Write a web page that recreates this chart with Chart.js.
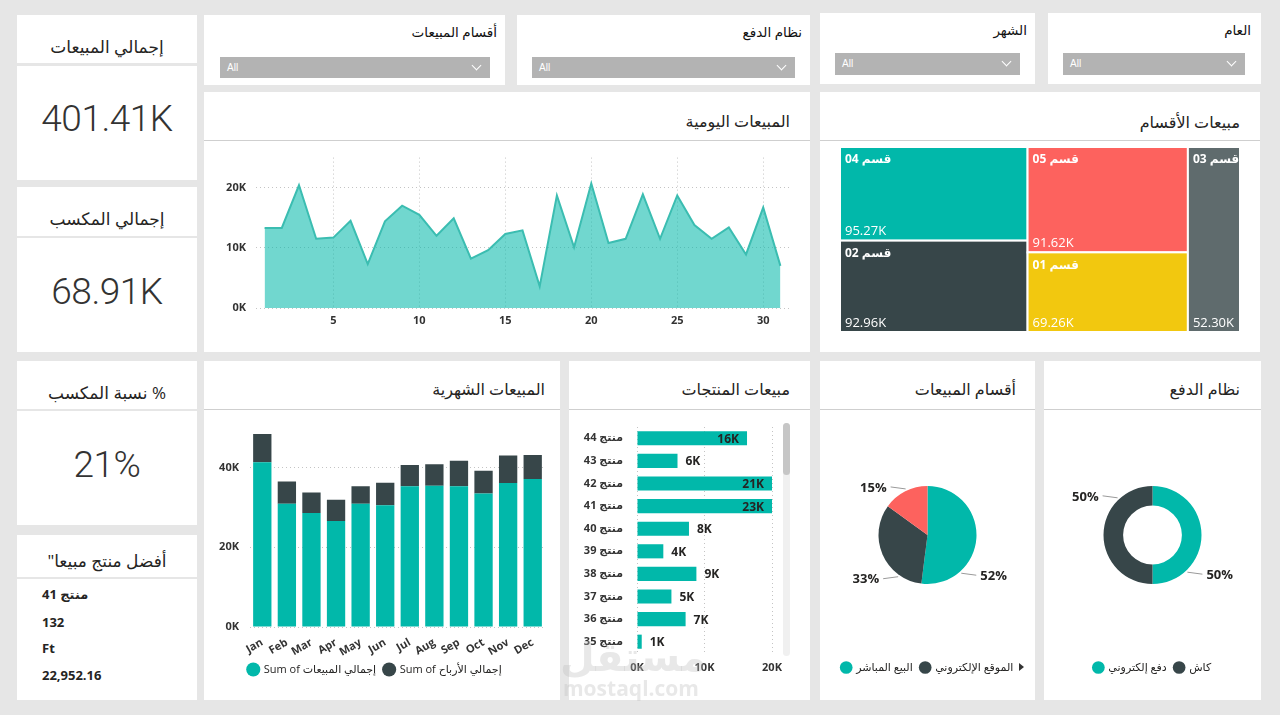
<!DOCTYPE html>
<html><head><meta charset="utf-8">
<script src="https://cdn.jsdelivr.net/npm/chart.js@4.4.1/dist/chart.umd.min.js"></script>
<style>
html,body{margin:0;padding:0;}
body{width:1280px;height:715px;background:#E6E6E6;position:relative;overflow:hidden;font-family:'Open Sans','DejaVu Sans',sans-serif;color:#252423;}
.p{position:absolute;background:#fff;}
.ttl{position:absolute;direction:rtl;text-align:right;white-space:nowrap;font-size:16px;color:#252423;}
.sep{position:absolute;height:1px;background:#CFCFCF;}
.kt{position:absolute;direction:rtl;text-align:center;white-space:nowrap;font-size:17px;color:#252423;line-height:24px;}
.kv{position:absolute;text-align:center;font-family:Roboto,'Open Sans',sans-serif;font-weight:300;font-size:37px;line-height:40px;letter-spacing:-0.5px;color:#333;}
.dd{position:absolute;background:#B3B3B3;}
.dd span{position:absolute;left:7px;top:5px;font-family:'Liberation Sans',Arial,sans-serif;font-size:10px;color:#fff;}
.dd i{position:absolute;right:10px;top:5px;width:6px;height:6px;border-right:1px solid #fff;border-bottom:1px solid #fff;transform:rotate(45deg);}
.st{position:absolute;direction:rtl;white-space:nowrap;font-size:13.5px;color:#111;}
canvas{position:absolute;}
.ln{position:absolute;left:42px;font-weight:bold;font-size:13px;color:#252423;white-space:nowrap;}
</style></head>
<body>

<!-- KPI cards -->
<div class="p" style="left:17px;top:15px;width:180px;height:48px;"></div>
<div class="p" style="left:17px;top:66px;width:180px;height:114px;"></div>
<div class="kt" style="left:17px;top:35px;width:180px;">إجمالي المبيعات</div>
<div class="kv" id="kpi1" style="left:17px;top:99px;width:180px;"></div>

<div class="p" style="left:17px;top:187px;width:180px;height:49px;"></div>
<div class="p" style="left:17px;top:238px;width:180px;height:114px;"></div>
<div class="kt" style="left:17px;top:207px;width:180px;">إجمالي المكسب</div>
<div class="kv" id="kpi2" style="left:17px;top:272px;width:180px;"></div>

<div class="p" style="left:17px;top:361px;width:180px;height:48px;"></div>
<div class="p" style="left:17px;top:411px;width:180px;height:114px;"></div>
<div class="kt" style="left:17px;top:381px;width:180px;">% نسبة المكسب</div>
<div class="kv" id="kpi3" style="left:17px;top:445px;width:180px;"></div>

<div class="p" style="left:17px;top:535px;width:180px;height:42px;"></div>
<div class="p" style="left:17px;top:579px;width:180px;height:121px;"></div>
<div class="kt" style="left:17px;top:549px;width:180px;">أفضل منتج مبيعا"</div>
<div class="ln" id="best0" style="top:585px;"></div>
<div class="ln" id="best1" style="top:613px;"></div>
<div class="ln" id="best2" style="top:639px;"></div>
<div class="ln" id="best3" style="top:666px;"></div>

<!-- slicers -->
<div class="p" style="left:204px;top:15px;width:301px;height:70px;"></div>
<div class="st" style="right:783px;top:23px;">أقسام المبيعات</div>
<div class="dd" style="left:220px;top:57px;width:270px;height:21px;"><span>All</span><i></i></div>

<div class="p" style="left:517px;top:15px;width:293px;height:70px;"></div>
<div class="st" style="right:478px;top:23px;">نظام الدفع</div>
<div class="dd" style="left:532px;top:57px;width:263px;height:21px;"><span>All</span><i></i></div>

<div class="p" style="left:820px;top:13px;width:215px;height:71px;"></div>
<div class="st" style="right:253px;top:21px;">الشهر</div>
<div class="dd" style="left:835px;top:53px;width:185px;height:22px;"><span>All</span><i></i></div>

<div class="p" style="left:1048px;top:13px;width:213px;height:71px;"></div>
<div class="st" style="right:29px;top:21px;">العام</div>
<div class="dd" style="left:1063px;top:53px;width:182px;height:22px;"><span>All</span><i></i></div>

<!-- row 2 panels -->
<div class="p" style="left:204px;top:92px;width:606px;height:260px;"></div>
<div class="ttl" style="right:490px;top:110px;">المبيعات اليومية</div>
<div class="sep" style="left:204px;top:140px;width:606px;"></div>
<canvas id="daily" width="605" height="211" style="left:205px;top:141px;"></canvas>

<div class="p" style="left:820px;top:92px;width:440px;height:260px;"></div>
<div class="ttl" style="right:40px;top:111px;">مبيعات الأقسام</div>
<div class="sep" style="left:820px;top:140px;width:440px;"></div>
<canvas id="tree" width="400" height="185" style="left:840px;top:147px;"></canvas>

<!-- row 3 panels -->
<div class="p" style="left:204px;top:361px;width:356px;height:339px;"></div>
<div class="ttl" style="right:735px;top:378px;">المبيعات الشهرية</div>
<div class="sep" style="left:204px;top:409px;width:356px;"></div>
<canvas id="monthly" width="355" height="290" style="left:205px;top:410px;"></canvas>

<div class="p" style="left:569px;top:361px;width:241px;height:339px;"></div>
<div class="ttl" style="right:490px;top:378px;">مبيعات المنتجات</div>
<div class="sep" style="left:569px;top:409px;width:241px;"></div>
<canvas id="products" width="240" height="290" style="left:570px;top:410px;"></canvas>
<div style="position:absolute;left:783px;top:423px;width:7px;height:233px;background:#F0F0F0;border-radius:4px;"></div>
<div style="position:absolute;left:783px;top:423px;width:7px;height:52px;background:#C6C6C6;border-radius:4px;"></div>

<div class="p" style="left:820px;top:361px;width:215px;height:339px;"></div>
<div class="ttl" style="right:264px;top:378px;">أقسام المبيعات</div>
<div class="sep" style="left:820px;top:409px;width:215px;"></div>
<canvas id="pie" width="215" height="290" style="left:820px;top:410px;"></canvas>
<div style="position:absolute;left:1019px;top:663px;width:0;height:0;border-top:4px solid transparent;border-bottom:4px solid transparent;border-left:5px solid #333;"></div>

<div class="p" style="left:1044px;top:361px;width:217px;height:339px;"></div>
<div class="ttl" style="right:40px;top:378px;">نظام الدفع</div>
<div class="sep" style="left:1044px;top:409px;width:217px;"></div>
<canvas id="donut" width="217" height="290" style="left:1044px;top:410px;"></canvas>

<!-- watermark -->
<div style="position:absolute;left:560px;top:628px;font-size:40px;font-weight:bold;color:rgba(190,190,190,0.35);direction:rtl;">مستقل</div>
<div style="position:absolute;left:563px;top:674px;font-size:21px;font-weight:bold;color:rgba(190,190,190,0.35);">mostaql.com</div>

<script>
// ---------- data ----------
const kpiTotalSales = '401.41K';
const kpiTotalProfit = '68.91K';
const kpiProfitRatio = '21%';
const bestProduct = ['منتج 41', '132', 'Ft', '22,952.16'];

const days = [1,2,3,4,5,6,7,8,9,10,11,12,13,14,15,16,17,18,19,20,21,22,23,24,25,26,27,28,29,30,31];
const dailySales = [13300,13300,20400,11500,11700,14500,7300,14400,17000,15500,12000,14900,8200,9600,12300,12900,3600,18700,10100,20700,10800,11500,18900,11500,18700,13800,11500,13400,8900,16700,7000];
const dailyXTicks = [5,10,15,20,25,30];
const dailyYTicks = [0,10000,20000];

const deptNames = ['قسم 04','قسم 02','قسم 05','قسم 01','قسم 03'];
const deptSales = [95270,92960,91620,69260,52300];
const treemapColumns = [['قسم 04','قسم 02'],['قسم 05','قسم 01'],['قسم 03']];

const months = ['Jan','Feb','Mar','Apr','May','Jun','Jul','Aug','Sep','Oct','Nov','Dec'];
const monthlySales = [41300,30900,28600,26600,30900,30500,35300,35400,35300,33500,36100,37100];
const monthlyProfit = [7100,5600,5100,5300,4400,5700,5300,5400,6400,5700,6900,6000];
const monthlyYTicks = [0,20000,40000];
const monthlySeries = ['Sum of إجمالي المبيعات','Sum of إجمالي الأرباح'];

const products = ['منتج 44','منتج 43','منتج 42','منتج 41','منتج 40','منتج 39','منتج 38','منتج 37','منتج 36','منتج 35'];
const productSales = [16300,6000,20600,22952,7700,3900,8800,5100,7200,700];
const productXTicks = [0,10000,20000];

const channelLabels = ['البيع المباشر','الموقع الإلكتروني','أخرى'];
const channelShares = [52,33,15];
const paymentLabels = ['دفع إلكتروني','كاش'];
const paymentShares = [50,50];

// ---------- styles ----------
const FONT = "'Open Sans','DejaVu Sans',sans-serif";
const TEAL = '#01B8AA', DARK = '#374649', RED = '#FD625E', YELLOW = '#F2C80F', GREY = '#5F6B6D';
const deptColors = {'قسم 04':TEAL,'قسم 02':DARK,'قسم 05':RED,'قسم 01':YELLOW,'قسم 03':GREY};
const tickFont = {family: FONT, size: 11, weight: 'bold'};
const gridStyle = {color:'#C4C4C4', lineWidth:1, drawTicks:false};
const dotted = {display:false, dash:[1,3]};
Chart.defaults.font.family = FONT;
Chart.defaults.color = '#333';
Chart.defaults.animation = false;
Chart.defaults.responsive = false;
Chart.defaults.plugins.tooltip.enabled = false;

document.getElementById('kpi1').textContent = kpiTotalSales;
document.getElementById('kpi2').textContent = kpiTotalProfit;
document.getElementById('kpi3').textContent = kpiProfitRatio;
bestProduct.forEach((t,i)=>document.getElementById('best'+i).textContent = t);

const kfmt = v => (v/1000) + 'K';

// ---------- daily area ----------
new Chart(document.getElementById('daily'), {
  type:'line',
  data:{datasets:[{data: days.map((d,i)=>({x:d, y:dailySales[i]})), borderColor:'#3BBDB1', backgroundColor:'rgba(1,184,170,0.56)', fill:'origin', pointRadius:0, borderWidth:2, tension:0}]},
  options:{
    layout:{padding:{top:11, right:21, left:0, bottom:0}},
    plugins:{legend:{display:false}},
    scales:{
      x:{type:'linear', min:0.5, max:31.5, afterBuildTicks:a=>{a.ticks = dailyXTicks.map(v=>({value:v}));},
         grid:gridStyle, border:dotted, ticks:{font:tickFont, padding:6, maxRotation:0, color:'#333'}, afterFit:a=>{a.height = 44;}},
      y:{min:0, max:25000, afterBuildTicks:a=>{a.ticks = dailyYTicks.map(v=>({value:v}));},
         grid:gridStyle, border:dotted, ticks:{font:tickFont, padding:10, callback:kfmt, color:'#333'}, afterFit:a=>{a.width = 51;}}
    }
  }
});

// ---------- treemap ----------
const totalDept = deptSales.reduce((a,b)=>a+b,0);
const treemapPlugin = {
  id:'treemap',
  afterDatasetsDraw(chart){
    const {ctx, scales:{x, y}} = chart;
    let cx = 0;
    ctx.save();
    treemapColumns.forEach(col=>{
      const vals = col.map(n=>deptSales[deptNames.indexOf(n)]);
      const colSum = vals.reduce((a,b)=>a+b,0);
      let cy = 1;
      col.forEach((name,j)=>{
        const h = vals[j]/colSum;
        const x0 = x.getPixelForValue(cx), x1 = x.getPixelForValue(cx+colSum);
        const y0 = y.getPixelForValue(cy), y1 = y.getPixelForValue(cy-h);
        ctx.fillStyle = deptColors[name];
        ctx.fillRect(x0, y0, x1-x0, y1-y0);
        ctx.strokeStyle = '#fff'; ctx.lineWidth = 2;
        ctx.strokeRect(x0, y0, x1-x0, y1-y0);
        ctx.save();
        ctx.beginPath(); ctx.rect(x0, y0, x1-x0, y1-y0); ctx.clip();
        ctx.fillStyle = '#fff'; ctx.textAlign = 'left'; ctx.textBaseline = 'middle';
        ctx.font = 'bold 12px ' + FONT;
        ctx.fillText(name, x0+5, y0+13);
        ctx.font = '13px ' + FONT;
        ctx.fillText((vals[j]/1000).toFixed(2)+'K', x0+5, y1-9);
        ctx.restore();
        cy -= h;
      });
      cx += colSum;
    });
    ctx.restore();
  }
};
new Chart(document.getElementById('tree'), {
  type:'scatter',
  data:{datasets:[{data:[], pointRadius:0}]},
  options:{layout:{padding:0}, plugins:{legend:{display:false}},
    scales:{x:{display:false, min:0, max:totalDept}, y:{display:false, min:0, max:1}}},
  plugins:[treemapPlugin]
});

// ---------- monthly stacked bars ----------
new Chart(document.getElementById('monthly'), {
  type:'bar',
  data:{labels:months, datasets:[
    {label:monthlySeries[0], data:monthlySales, backgroundColor:TEAL, barPercentage:0.745, categoryPercentage:1},
    {label:monthlySeries[1], data:monthlyProfit, backgroundColor:DARK, barPercentage:0.745, categoryPercentage:1}
  ]},
  options:{
    layout:{padding:{top:13, right:15, left:0, bottom:15}},
    plugins:{legend:{position:'bottom', labels:{usePointStyle:true, pointStyle:'circle', boxWidth:10, boxHeight:10, padding:8, font:{size:11}, color:'#252423'}}},
    scales:{
      x:{stacked:true, grid:{display:false}, border:{display:false}, ticks:{font:tickFont, minRotation:30, maxRotation:30, autoSkip:false, padding:1, color:'#333'}, afterFit:a=>{a.height = 29;}},
      y:{stacked:true, min:0, max:50000, afterBuildTicks:a=>{a.ticks = monthlyYTicks.map(v=>({value:v}));},
         grid:gridStyle, border:dotted, ticks:{font:tickFont, padding:11, callback:kfmt, color:'#333'}, afterFit:a=>{a.width = 45;}}
    }
  }
});

// ---------- products horizontal bars ----------
const barLabelPlugin = {
  id:'barLabels',
  afterDatasetsDraw(chart){
    const {ctx, chartArea} = chart;
    const meta = chart.getDatasetMeta(0);
    ctx.save();
    ctx.font = 'bold 12px ' + FONT;
    ctx.fillStyle = '#252423';
    ctx.textBaseline = 'middle';
    meta.data.forEach((bar,i)=>{
      const v = chart.data.datasets[0].data[i];
      const txt = Math.round(v/1000) + 'K';
      const end = Math.min(bar.x, chartArea.right);
      const w = ctx.measureText(txt).width;
      if (end + 8 + w <= chartArea.right + 2) {
        ctx.textAlign = 'left'; ctx.fillText(txt, end + 8, bar.y + 1);
      } else {
        ctx.textAlign = 'right'; ctx.fillText(txt, end - 8, bar.y + 1);
      }
    });
    ctx.restore();
  }
};
new Chart(document.getElementById('products'), {
  type:'bar',
  data:{labels:products, datasets:[{data:productSales, backgroundColor:TEAL, barPercentage:0.625, categoryPercentage:1}]},
  options:{
    indexAxis:'y',
    layout:{padding:{top:17, right:38, left:0, bottom:0}},
    plugins:{legend:{display:false}},
    scales:{
      x:{min:0, max:20000, afterBuildTicks:a=>{a.ticks = productXTicks.map(v=>({value:v}));},
         grid:gridStyle, border:dotted, ticks:{font:tickFont, padding:8, callback:kfmt, maxRotation:0, color:'#333'}, afterFit:a=>{a.height = 47;}},
      y:{grid:{display:false}, border:{display:false}, ticks:{font:{family:FONT, size:11, weight:'bold'}, padding:6, color:'#333'}, afterFit:a=>{a.width = 67;}}
    }
  },
  plugins:[barLabelPlugin]
});

// ---------- pie / donut ----------
const pieLabelPlugin = {
  id:'pieLabels',
  afterDatasetsDraw(chart, args, opts){
    const {ctx} = chart;
    const meta = chart.getDatasetMeta(0);
    const data = chart.data.datasets[0].data;
    const total = data.reduce((a,b)=>a+b,0);
    ctx.save();
    ctx.font = 'bold 13px ' + FONT;
    ctx.fillStyle = '#252423';
    ctx.strokeStyle = '#9A9A9A';
    ctx.lineWidth = 1;
    ctx.textBaseline = 'middle';
    meta.data.forEach((arc,i)=>{
      const a = arc.startAngle + (arc.endAngle - arc.startAngle) * opts.pos[i];
      const r = arc.outerRadius + 2;
      const sx = arc.x + Math.cos(a)*r, sy = arc.y + Math.sin(a)*r;
      const dir = Math.cos(a) >= 0 ? 1 : -1;
      const ex = sx + dir*15, ey = sy + (Math.sin(a) >= 0 ? 2 : -2);
      ctx.beginPath(); ctx.moveTo(sx, sy); ctx.lineTo(ex, ey); ctx.stroke();
      ctx.textAlign = dir > 0 ? 'left' : 'right';
      ctx.fillText(Math.round(data[i]/total*100) + '%', ex + dir*4, ey + 1);
    });
    ctx.restore();
  }
};
const pieLegend = {position:'bottom', labels:{usePointStyle:true, pointStyle:'circle', boxWidth:9, boxHeight:9, padding:8, font:{size:11}, color:'#252423', filter:(item)=>item.index < 2}};

new Chart(document.getElementById('pie'), {
  type:'pie',
  data:{labels:channelLabels, datasets:[{data:channelShares, backgroundColor:[TEAL, DARK, RED], borderWidth:0}]},
  options:{radius:49, layout:{padding:{top:6, bottom:17}},
    plugins:{legend:pieLegend, pieLabels:{pos:[0.74, 0.235, 0.53]}}},
  plugins:[pieLabelPlugin]
});

new Chart(document.getElementById('donut'), {
  type:'doughnut',
  data:{labels:paymentLabels, datasets:[{data:paymentShares, backgroundColor:[TEAL, DARK], borderWidth:0}]},
  options:{radius:49, cutout:'60%', layout:{padding:{top:6, bottom:17}},
    plugins:{legend:pieLegend, pieLabels:{pos:[0.76, 0.76]}}},
  plugins:[pieLabelPlugin]
});
</script>
</body></html>
